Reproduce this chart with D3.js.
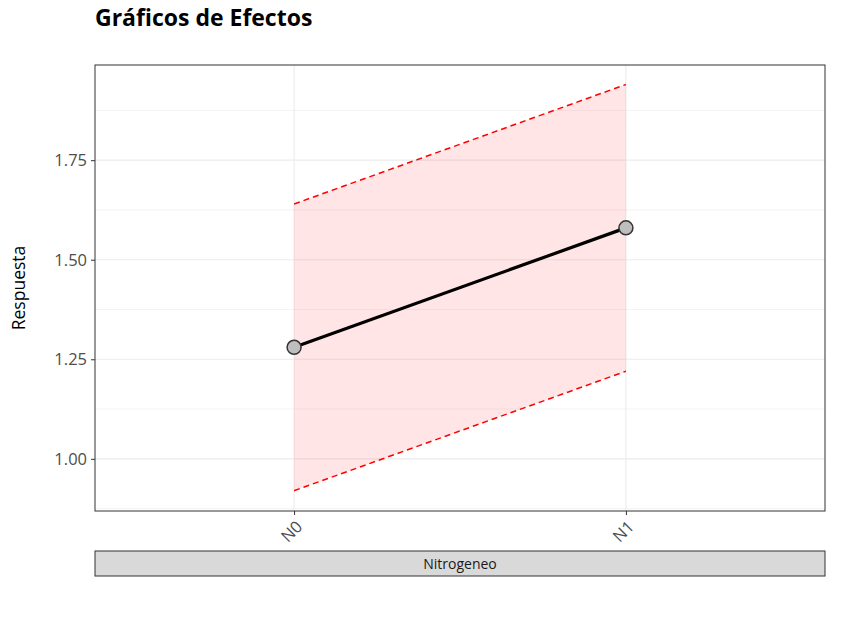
<!DOCTYPE html>
<html>
<head>
<meta charset="utf-8">
<style>
  body { margin: 0; background: #fff; }
  text { font-family: "Open Sans", "Noto Sans", sans-serif; }
</style>
</head>
<body>
<svg width="851" height="620"></svg>
<script src="https://d3js.org/d3.v7.min.js"></script>
<script>
// data
var levels = ["N0", "N1"];
var means  = [1.28, 1.58];
var lower  = [0.92, 1.22];
var upper  = [1.64, 1.94];
var yTicks = [1.00, 1.25, 1.50, 1.75];
var factorName = "Nitrogeneo";

var svg = d3.select("svg");

var panel = { left: 95, top: 65, right: 825, bottom: 511 };

var x = d3.scalePoint()
    .domain(levels)
    .range([panel.left, panel.right])
    .padding(0.6);   // matches ggplot discrete expansion

var y = d3.scaleLinear()
    .domain([0.869, 1.989])
    .range([panel.bottom, panel.top]);

var data = levels.map(function(l, i) {
  return { lev: l, m: means[i], lo: lower[i], hi: upper[i] };
});

// title
svg.append("text")
    .attr("x", 95).attr("y", 26)
    .attr("font-size", 23).attr("font-weight", "bold")
    .attr("fill", "#000")
    .text("Gráficos de Efectos");

// grid
var minor = d3.range(0.875, 1.99, 0.25);
svg.append("g").selectAll("line").data(minor).enter().append("line")
    .attr("x1", panel.left).attr("x2", panel.right)
    .attr("y1", function(d) { return y(d); }).attr("y2", function(d) { return y(d); })
    .attr("stroke", "#ebebeb").attr("stroke-width", 0.6);
svg.append("g").selectAll("line").data(yTicks).enter().append("line")
    .attr("x1", panel.left).attr("x2", panel.right)
    .attr("y1", function(d) { return y(d); }).attr("y2", function(d) { return y(d); })
    .attr("stroke", "#ebebeb").attr("stroke-width", 1.1);
svg.append("g").selectAll("line").data(levels).enter().append("line")
    .attr("y1", panel.top).attr("y2", panel.bottom)
    .attr("x1", function(d) { return x(d); }).attr("x2", function(d) { return x(d); })
    .attr("stroke", "#ebebeb").attr("stroke-width", 1.1);

// ribbon
svg.append("path")
    .datum(data)
    .attr("fill", "rgba(255,0,0,0.1)")
    .attr("d", d3.area()
        .x(function(d) { return x(d.lev); })
        .y0(function(d) { return y(d.lo); })
        .y1(function(d) { return y(d.hi); }));

// dashed bounds
["lo", "hi"].forEach(function(k) {
  svg.append("path")
      .datum(data)
      .attr("fill", "none")
      .attr("stroke", "#ff0000")
      .attr("stroke-width", 1.5)
      .attr("stroke-dasharray", "6,4")
      .attr("d", d3.line()
          .x(function(d) { return x(d.lev); })
          .y(function(d) { return y(d[k]); }));
});

// mean line
svg.append("path")
    .datum(data)
    .attr("fill", "none")
    .attr("stroke", "#000")
    .attr("stroke-width", 3.2)
    .attr("d", d3.line()
        .x(function(d) { return x(d.lev); })
        .y(function(d) { return y(d.m); }));

svg.append("g").selectAll("circle").data(data).enter().append("circle")
    .attr("cx", function(d) { return x(d.lev); })
    .attr("cy", function(d) { return y(d.m); })
    .attr("r", 7)
    .attr("fill", "#bebebe")
    .attr("stroke", "#333")
    .attr("stroke-width", 1.5);

// panel border
svg.append("rect")
    .attr("x", panel.left).attr("y", panel.top)
    .attr("width", panel.right - panel.left).attr("height", panel.bottom - panel.top)
    .attr("fill", "none").attr("stroke", "#333").attr("stroke-width", 1);

// y axis
var yAxis = svg.append("g")
    .attr("transform", "translate(" + panel.left + ",0)")
    .call(d3.axisLeft(y).tickValues(yTicks).tickFormat(d3.format(".2f")).tickSize(4).tickPadding(4));
yAxis.select(".domain").remove();
yAxis.selectAll(".tick line").attr("stroke", "#333");
yAxis.selectAll("text").attr("fill", "#4d4d4d").attr("font-size", 16.5);

// x axis
var xAxis = svg.append("g")
    .attr("transform", "translate(0," + panel.bottom + ")")
    .call(d3.axisBottom(x).tickSize(4).tickPadding(0));
xAxis.select(".domain").remove();
xAxis.selectAll(".tick line").attr("stroke", "#333");
xAxis.selectAll("text")
    .attr("fill", "#4d4d4d").attr("font-size", 16.5)
    .attr("text-anchor", "end")
    .attr("dy", 0)
    .attr("transform", "translate(6,14) rotate(-45)");

// y title
svg.append("text")
    .attr("transform", "translate(25," + ((panel.top + panel.bottom) / 2) + ") rotate(-90)")
    .attr("text-anchor", "middle")
    .attr("font-size", 17.5).attr("fill", "#000")
    .text("Respuesta");

// strip
svg.append("rect")
    .attr("x", panel.left).attr("y", 551)
    .attr("width", panel.right - panel.left).attr("height", 25)
    .attr("fill", "#d9d9d9").attr("stroke", "#333").attr("stroke-width", 1);
svg.append("text")
    .attr("x", (panel.left + panel.right) / 2).attr("y", 569)
    .attr("text-anchor", "middle")
    .attr("font-size", 14).attr("fill", "#1a1a1a")
    .text(factorName);
</script>
</body>
</html>
